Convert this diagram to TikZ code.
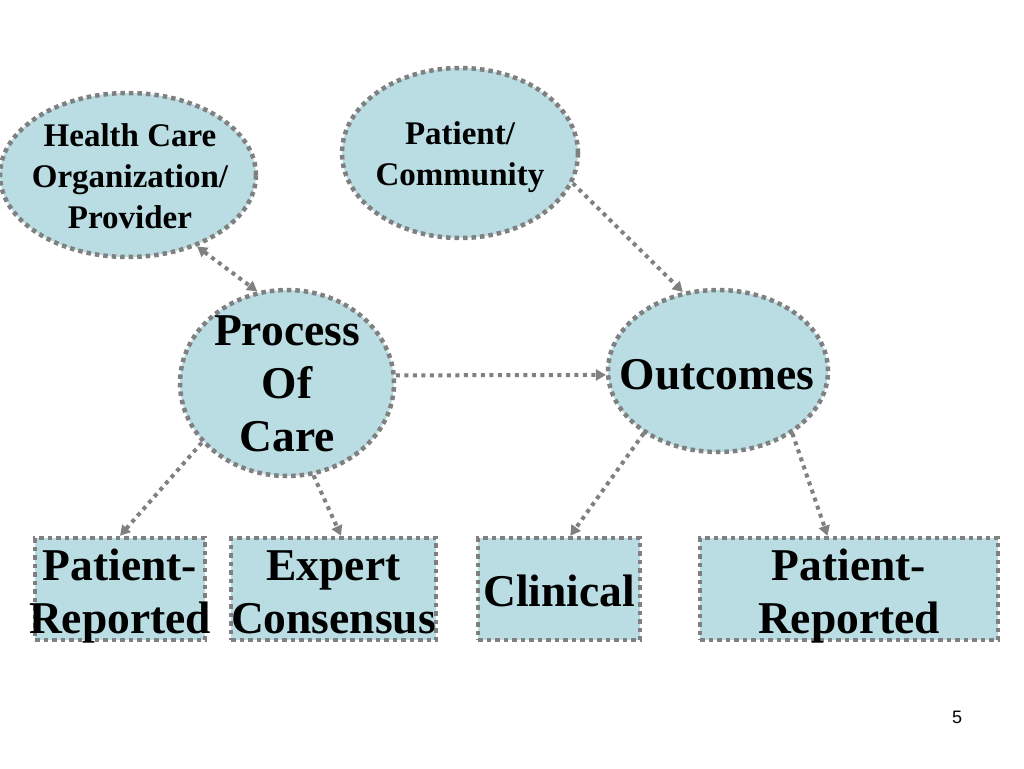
\documentclass[tikz,border=0pt]{standalone}
\usepackage{fontspec}
\setmainfont{Liberation Serif}
\setsansfont{Liberation Sans}
\usetikzlibrary{shapes.geometric,arrows.meta}
\definecolor{cellfill}{RGB}{185,221,226}
\definecolor{dotgray}{RGB}{128,128,128}
\begin{document}
\begin{tikzpicture}[x=1pt,y=-1pt,
    dotline/.style={draw=dotgray,line width=4.5pt,dash pattern=on 4.5pt off 4pt},
    blob/.style={dotline,ellipse,fill=cellfill,inner sep=0pt},
    cell/.style={dotline,rectangle,fill=cellfill,inner sep=0pt},
    smalltext/.style={align=center,font=\fontsize{33}{41}\selectfont\bfseries},
    bigtext/.style={align=center,font=\fontsize{45.5}{53}\selectfont\bfseries},
    link/.style={draw=dotgray,line width=4pt,dash pattern=on 4pt off 4.5pt,
      -{Triangle[length=10pt,width=11pt]}}]
  \useasboundingbox (0,0) rectangle (1024,768);
  % ovals
  \node[blob,minimum width=256pt,minimum height=164pt] (hco) at (128,175) {};
  \node[blob,minimum width=236pt,minimum height=170pt] (pc) at (460,153) {};
  \node[blob,minimum width=214pt,minimum height=186pt] (proc) at (287,383) {};
  \node[blob,minimum width=220pt,minimum height=162pt] (out) at (718,371) {};
  % boxes
  \node[cell,minimum width=170pt,minimum height=102pt] (prL) at (120,589) {};
  \node[cell,minimum width=205pt,minimum height=102pt] (exp) at (333.5,589) {};
  \node[cell,minimum width=162pt,minimum height=102pt] (cli) at (559,589) {};
  \node[cell,minimum width=298pt,minimum height=102pt] (prR) at (849,589) {};
  % texts
  \node[smalltext] at (130,176) {Health Care\\Organization/\\Provider};
  \node[smalltext] at (460,157) {Patient/\\Community};
  \node[bigtext] at (287,384) {Process\\Of\\Care};
  \node[bigtext] at (717,375) {Outcomes};
  \node[bigtext] at (120,596) {Patient-\\Reported};
  \node[bigtext] at (333.5,592) {Expert\\Consensus};
  \node[bigtext] at (559,591) {Clinical};
  \node[bigtext] at (849,596) {Patient-\\Reported};
  \node[font=\sffamily\fontsize{18}{20}\selectfont] (pg) at (957,717) {5};
  % connectors
  \draw[link,{Triangle[length=10pt,width=11pt]}-{Triangle[length=10pt,width=11pt]}]
    (hco.-46) to (proc.108);
  \draw[link] (pc.-15) to (out.114);
  \draw[link] (proc.4) to (out.182);
  \draw[link] (proc.215) to (prL.north);
  \draw[link] (proc.-74) to (exp.82);
  \draw[link] (out.220) to (cli.78);
  \draw[link] (out.-40) to (prR.112);
\end{tikzpicture}
\end{document}
